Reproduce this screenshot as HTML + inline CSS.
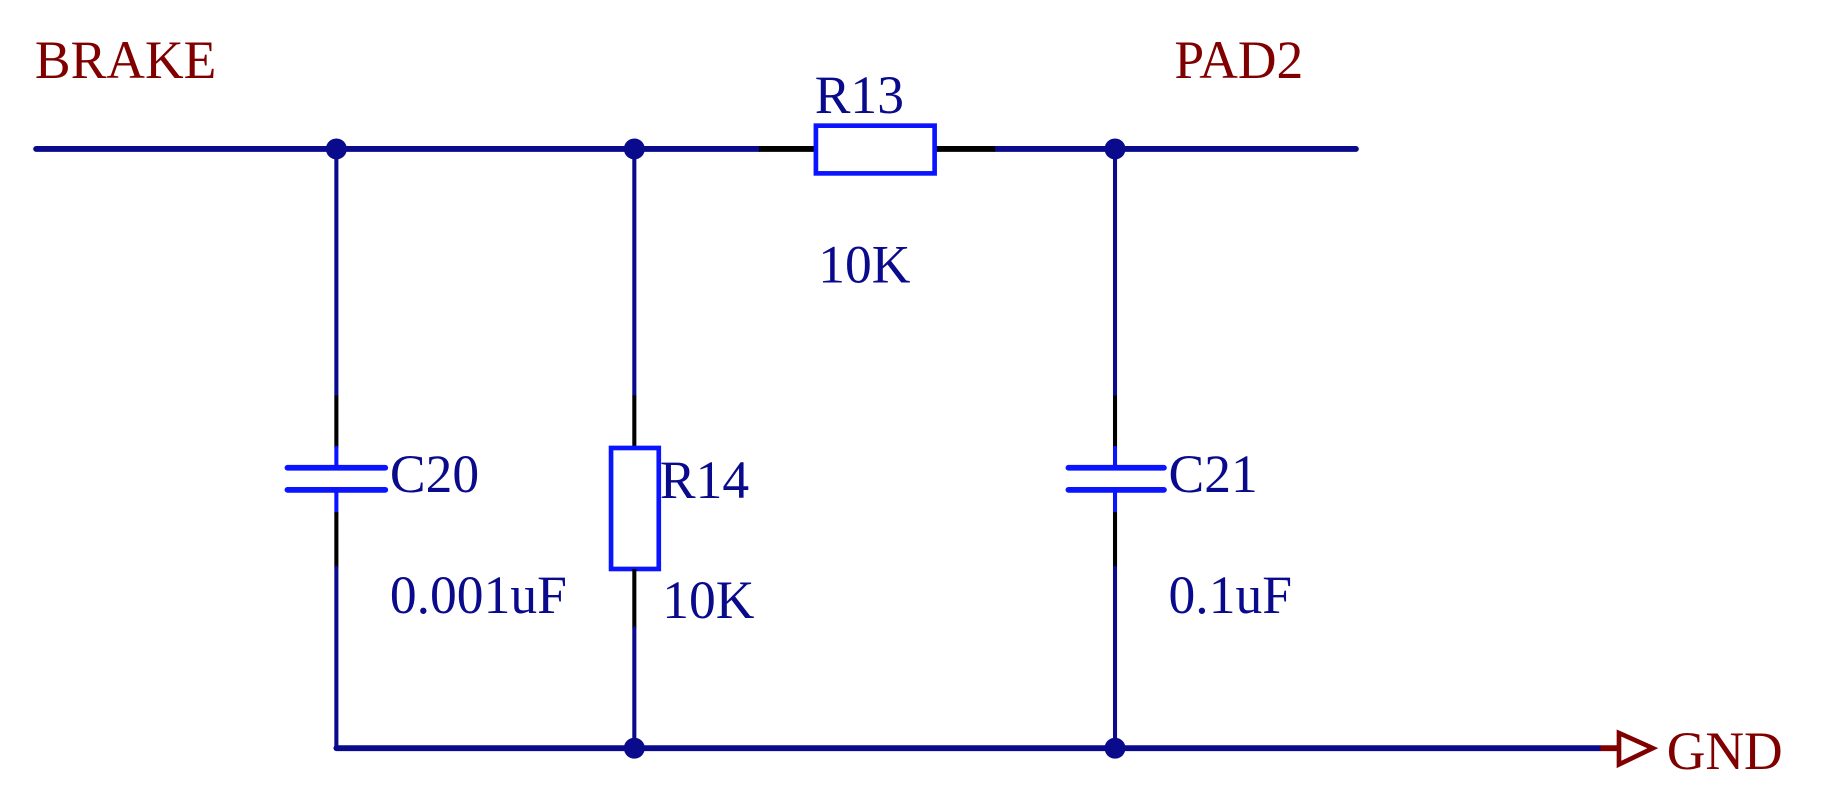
<!DOCTYPE html>
<html><head><style>html,body{margin:0;padding:0;background:#fff;}svg{display:block}</style></head>
<body>
<svg width="1825" height="811" viewBox="0 0 1568 697" preserveAspectRatio="none" xmlns="http://www.w3.org/2000/svg">
<g stroke-linecap="round" fill="none">
<line x1="31" y1="128" x2="652" y2="128" stroke="#0a0a8c" stroke-width="5"/>
<line x1="855" y1="128" x2="1165" y2="128" stroke="#0a0a8c" stroke-width="5"/>
<line x1="652" y1="128" x2="700" y2="128" stroke="#000" stroke-width="5" stroke-linecap="butt"/>
<line x1="803" y1="128" x2="855" y2="128" stroke="#000" stroke-width="5" stroke-linecap="butt"/>
<rect x="701" y="108" width="102" height="41" stroke="#0a14ff" stroke-width="4"/>
<line x1="289" y1="643" x2="1375" y2="643" stroke="#0a0a8c" stroke-width="5"/>
<line x1="1375" y1="643" x2="1391" y2="643" stroke="#800000" stroke-width="5" stroke-linecap="butt"/>
<polygon points="1391,630 1420,643 1391,657" stroke="#800000" stroke-width="4"/>
<line x1="289" y1="128" x2="289" y2="340" stroke="#0a0a8c" stroke-width="3.5"/>
<line x1="289" y1="340" x2="289" y2="385" stroke="#000" stroke-width="3.5" stroke-linecap="butt"/>
<line x1="289" y1="385" x2="289" y2="402" stroke="#0a14ff" stroke-width="3.5"/>
<line x1="247" y1="402" x2="331" y2="402" stroke="#0a14ff" stroke-width="5"/>
<line x1="247" y1="421" x2="331" y2="421" stroke="#0a14ff" stroke-width="5"/>
<line x1="289" y1="421" x2="289" y2="440" stroke="#0a14ff" stroke-width="3.5"/>
<line x1="289" y1="440" x2="289" y2="488" stroke="#000" stroke-width="3.5" stroke-linecap="butt"/>
<line x1="289" y1="488" x2="289" y2="643" stroke="#0a0a8c" stroke-width="3.5"/>
<line x1="545" y1="128" x2="545" y2="340" stroke="#0a0a8c" stroke-width="3.5"/>
<line x1="545" y1="340" x2="545" y2="385" stroke="#000" stroke-width="3.5" stroke-linecap="butt"/>
<rect x="525" y="385" width="41" height="104" stroke="#0a14ff" stroke-width="4"/>
<line x1="545" y1="489" x2="545" y2="540" stroke="#000" stroke-width="3.5" stroke-linecap="butt"/>
<line x1="545" y1="540" x2="545" y2="643" stroke="#0a0a8c" stroke-width="3.5"/>
<line x1="958" y1="128" x2="958" y2="340" stroke="#0a0a8c" stroke-width="3.5"/>
<line x1="958" y1="340" x2="958" y2="385" stroke="#000" stroke-width="3.5" stroke-linecap="butt"/>
<line x1="958" y1="385" x2="958" y2="402" stroke="#0a14ff" stroke-width="3.5"/>
<line x1="918" y1="402" x2="1000" y2="402" stroke="#0a14ff" stroke-width="5"/>
<line x1="918" y1="421" x2="1000" y2="421" stroke="#0a14ff" stroke-width="5"/>
<line x1="958" y1="421" x2="958" y2="440" stroke="#0a14ff" stroke-width="3.5"/>
<line x1="958" y1="440" x2="958" y2="488" stroke="#000" stroke-width="3.5" stroke-linecap="butt"/>
<line x1="958" y1="488" x2="958" y2="643" stroke="#0a0a8c" stroke-width="3.5"/>
</g>
<g fill="#0a0a8c">
<ellipse cx="289" cy="128" rx="9" ry="9"/>
<ellipse cx="545" cy="128" rx="9" ry="9"/>
<ellipse cx="958" cy="128" rx="9" ry="9"/>
<ellipse cx="545" cy="643" rx="9" ry="9"/>
<ellipse cx="958" cy="643" rx="9" ry="9"/>
</g>
<g font-family="'Liberation Serif', serif" font-size="46">
<text x="30" y="67" fill="#800000">BRAKE</text>
<text x="1009" y="67" fill="#800000">PAD2</text>
<text x="1432" y="661" fill="#800000">GND</text>
<g fill="#0a0a8c">
<text x="700" y="97">R13</text>
<text x="703" y="243">10K</text>
<text x="335" y="423">C20</text>
<text x="567" y="428">R14</text>
<text x="335" y="527">0.001uF</text>
<text x="569" y="531">10K</text>
<text x="1004" y="423">C21</text>
<text x="1004" y="527">0.1uF</text>
</g>
</g>
</svg>
</body></html>
